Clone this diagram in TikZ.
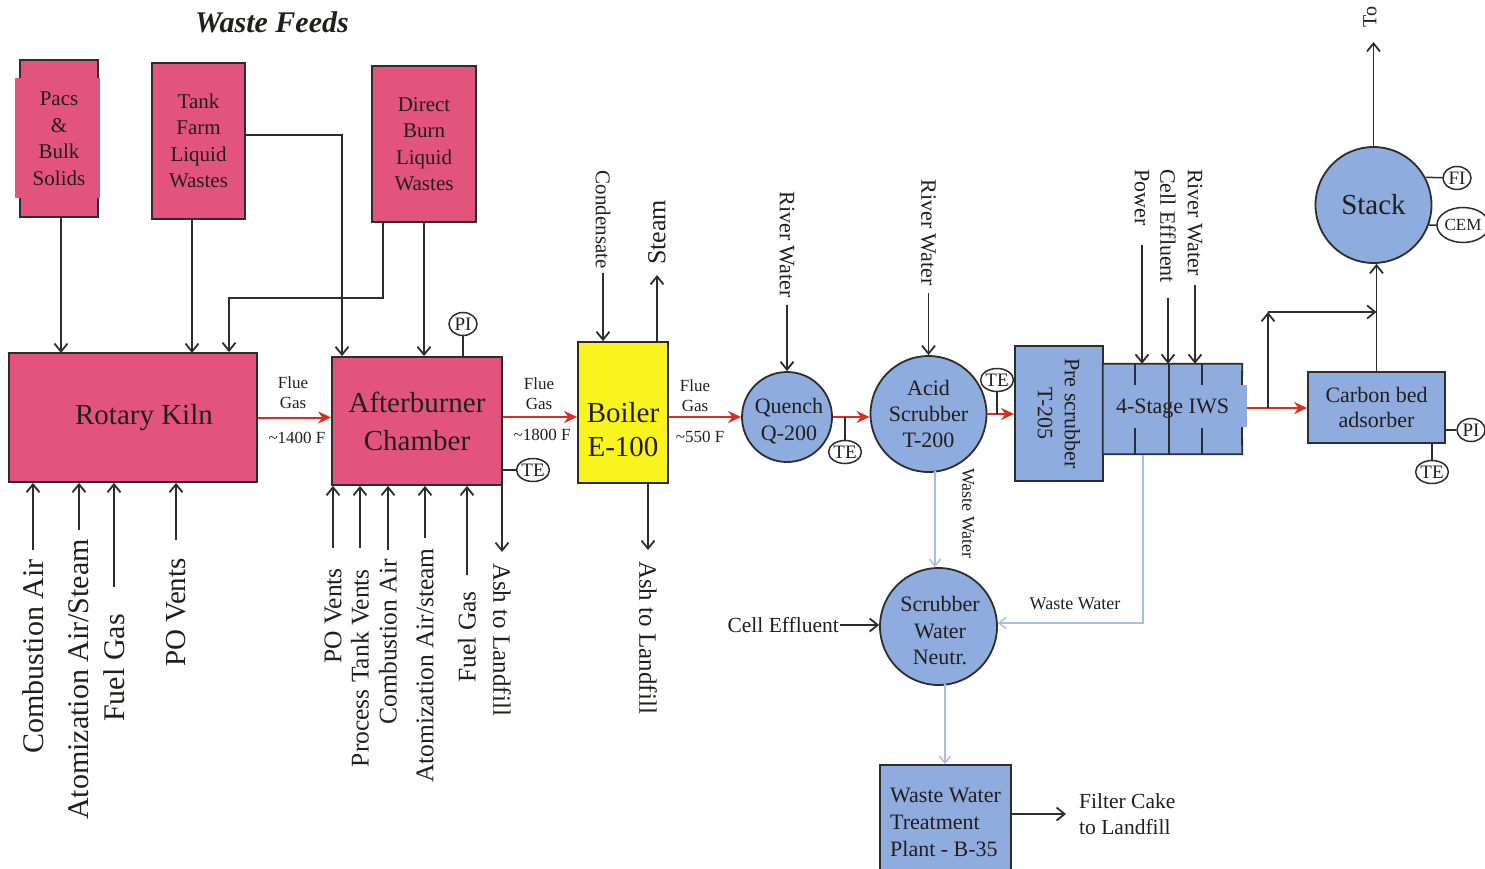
\documentclass[tikz,border=0pt]{standalone}
\usepackage{fontspec}
\setmainfont{Liberation Serif}
\usetikzlibrary{arrows.meta,shapes.geometric}
\definecolor{pinkf}{RGB}{226,84,124}
\definecolor{yelf}{RGB}{250,244,30}
\definecolor{bluef}{RGB}{142,172,222}
\definecolor{ln}{RGB}{45,45,45}
\definecolor{redl}{RGB}{220,45,35}
\definecolor{wwl}{RGB}{165,190,225}
\definecolor{txt}{RGB}{35,30,30}
\newcommand\fsz[2]{\fontsize{#1}{#2}\selectfont}
\begin{document}
\begin{tikzpicture}[x=1pt,y=-1pt,
  every node/.append style={text=txt},
  box/.style={rectangle, draw=ln, line width=1.8pt, inner sep=0pt},
  pinkbox/.style={box, fill=pinkf},
  bluebox/.style={box, fill=bluef},
  ves/.style={circle, draw=ln, line width=1.8pt, fill=bluef, inner sep=0pt, align=center},
  inst/.style={ellipse, draw=ln, line width=1.5pt, fill=white, minimum width=28pt, minimum height=23pt, inner sep=0pt, font=\fsz{19}{19}},
  arr/.style={draw=ln, line width=1.8pt, -{Straight Barb[length=8pt,width=13pt]}},
  pline/.style={draw=ln, line width=1.8pt},
  iline/.style={draw=ln, line width=1.5pt},
  flue/.style={draw=redl, line width=2pt, -{Stealth[length=13pt,width=12pt]}},
  wwa/.style={draw=wwl, line width=1.4pt, -{Straight Barb[length=7pt,width=11pt]}},
  lbl/.style={inner sep=1pt},
  vup/.style={lbl, rotate=90, anchor=east},
  vdn/.style={lbl, rotate=-90, anchor=west},
]
\fill[white] (0,0) rectangle (1485,869);
\useasboundingbox (0,0) rectangle (1485,869);

% ---------- title
\node[font=\fsz{30}{30}\bfseries\itshape] (title) at (272,22) {Waste Feeds};

% ---------- waste feeds
\fill[pinkf] (15,78) rectangle (100,198);
\node[rectangle, fill=pinkf, minimum width=78pt, minimum height=157pt, inner sep=0pt, align=center, font=\fsz{21}{26.5}] (pacs) at (59,138.5) {Pacs\\\&\\Bulk\\Solids};
\draw[pline] (pacs.north west) ++(0,18) -- (pacs.north west) -- (pacs.north east) -- ++(0,18);
\draw[pline] (pacs.south west) ++(0,-19) -- (pacs.south west) -- (pacs.south east) -- ++(0,-19);

\node[pinkbox, minimum width=93pt, minimum height=156pt, align=center, font=\fsz{21}{26.5}] (tank) at (198.5,141) {Tank\\Farm\\Liquid\\Wastes};
\node[pinkbox, minimum width=104pt, minimum height=156pt, align=center, font=\fsz{21}{26.5}] (direct) at (424,144) {Direct\\Burn\\Liquid\\Wastes};

% ---------- main units
\node[pinkbox, minimum width=248pt, minimum height=129pt, font=\fsz{29}{29}] (kiln) at (133,417.5) {\hspace*{22pt}Rotary Kiln};
\node[pinkbox, minimum width=170pt, minimum height=128pt, align=center, font=\fsz{29}{38}] (ab) at (417,421) {Afterburner\\Chamber};
\node[box, fill=yelf, minimum width=90pt, minimum height=141pt] (boiler) at (623,412.5) {};
\node[align=center, font=\fsz{29}{34}, inner sep=0pt] (boilert) at (623,430) {Boiler\\E-100};
\node[ves, minimum size=90pt] (quench) at (787,417) {};
\node[align=center, font=\fsz{22}{27}, inner sep=0pt] (quencht) at (789,421) {Quench\\Q-200};
\node[ves, minimum size=116pt, font=\fsz{22}{26}] (acid) at (928.5,414) {Acid\\Scrubber\\T-200};
\node[bluebox, minimum width=135pt, minimum height=88pt, rotate=-90, align=center, font=\fsz{22}{27}] (pre) at (1059,413.5) {Pre scrubber\\T-205};

% 4-stage IWS
\fill[bluef] (1242,385) rectangle (1247,427);
\node[rectangle, fill=bluef, minimum width=139pt, minimum height=90pt, inner sep=0pt, font=\fsz{22}{22}] (iws) at (1172.5,409) {4-Stage IWS};
\draw[pline] (1242,385) -- (iws.north east) -- (iws.north west) -- (iws.south west) -- (iws.south east) -- (1242,427);
\draw[pline] (1169,364) -- (1169,454);
\draw[pline] (1135,364) -- (1135,385) (1135,428) -- (1135,454);
\draw[pline] (1202,364) -- (1202,385) (1202,428) -- (1202,454);

\node[bluebox, minimum width=137pt, minimum height=71pt, align=center, font=\fsz{22}{25}] (carbon) at (1376.5,407.5) {Carbon bed\\adsorber};
\node[ves, minimum size=116pt, font=\fsz{29}{29}] (stack) at (1373.5,205) {Stack};
\node[ves, minimum size=117pt] (neutr) at (938.5,626.5) {};
\node[align=center, font=\fsz{22}{26.5}, inner sep=0pt] (neutrt) at (940,631) {Scrubber\\Water\\Neutr.};
\node[bluebox, minimum width=131pt, minimum height=115pt, align=left, font=\fsz{22}{27}] (wwtp) at (945.5,822.5) {Waste Water\\Treatment\\Plant - B-35};

% ---------- feed connections
\coordinate (kin1) at (61,353);
\coordinate (kin2) at (192,353);
\draw[arr] (pacs.south -| kin1) -- (kin1);
\draw[arr] (tank.south -| kin2) -- (kin2);
\coordinate (tankC) at (342,135);
\draw[arr] (tank.east |- tankC) -- (tankC) -- (tankC |- ab.north);
\coordinate (dirC1) at (383,298);
\coordinate (dirC2) at (229,298);
\draw[arr] (direct.south -| dirC1) -- (dirC1) -- (dirC2) -- (dirC2 |- kiln.north);
\coordinate (dirC3) at (424,300);
\draw[arr] (direct.south -| dirC3) -- (dirC3 |- ab.north);

% ---------- kiln inputs
\coordinate (k1) at (33,550);
\coordinate (k2) at (79,530);
\coordinate (k3) at (114,587);
\coordinate (k4) at (176,540);
\draw[arr] (k1) -- (k1 |- kiln.south);
\draw[arr] (k2) -- (k2 |- kiln.south);
\draw[arr] (k3) -- (k3 |- kiln.south);
\draw[arr] (k4) -- (k4 |- kiln.south);
\node[vup, font=\fsz{30}{30}] (k1t) at (33,558) {Combustion Air};
\node[vup, font=\fsz{30}{30}] (k2t) at (79,538) {Atomization Air/Steam};
\node[vup, font=\fsz{30}{30}] (k3t) at (114,613) {Fuel Gas};
\node[vup, font=\fsz{29}{29}] (k4t) at (176,557) {PO Vents};

% ---------- afterburner inputs
\coordinate (a1) at (333,548);
\coordinate (a2) at (360,548);
\coordinate (a3) at (388,550);
\coordinate (a4) at (425,538);
\coordinate (a5) at (467,575);
\coordinate (a6) at (502,552);
\draw[arr] (a1) -- (a1 |- ab.south);
\draw[arr] (a2) -- (a2 |- ab.south);
\draw[arr] (a3) -- (a3 |- ab.south);
\draw[arr] (a4) -- (a4 |- ab.south);
\draw[arr] (a5) -- (a5 |- ab.south);
\draw[arr] (a6 |- ab.south) -- (a6);
\node[vup, font=\fsz{25.5}{25.5}] (a1t) at (333,567) {PO Vents};
\node[vup, font=\fsz{25.5}{25.5}] (a2t) at (360,568) {Process Tank Vents};
\node[vup, font=\fsz{25.5}{25.5}] (a3t) at (388,558) {Combustion Air};
\node[vup, font=\fsz{25.5}{25.5}] (a4t) at (425,547) {Atomization Air/steam};
\node[vup, font=\fsz{25.5}{25.5}] (a5t) at (467,590) {Fuel Gas};
\node[vdn, font=\fsz{25}{25}] (a6t) at (502,562) {Ash to Landfill};

% ---------- boiler streams
\coordinate (b1) at (648,550);
\draw[arr] (b1 |- boiler.south) -- (b1);
\node[vdn, font=\fsz{25}{25}] (b1t) at (648,560) {Ash to Landfill};
\coordinate (cond) at (603,273);
\draw[arr] (cond) -- (cond |- boiler.north);
\node[lbl, rotate=-90, anchor=east, font=\fsz{21}{21}] (condt) at (603,270) {Condensate};
\coordinate (stm) at (657,275);
\draw[arr] (stm |- boiler.north) -- (stm);
\node[lbl, rotate=90, anchor=west, font=\fsz{26}{26}] (stmt) at (657,266) {Steam};

% ---------- river water
\coordinate (rw1) at (787,305);
\draw[arr] (rw1) -- (quench.north);
\node[lbl, rotate=-90, anchor=east, font=\fsz{22}{22}] (rw1t) at (787,299) {River Water};
\coordinate (rw2) at (928.5,293);
\draw[arr] (rw2) -- (acid.north);
\node[lbl, rotate=-90, anchor=east, font=\fsz{22}{22}] (rw2t) at (928.5,287) {River Water};

% ---------- IWS inputs
\coordinate (i1) at (1142,245);
\coordinate (i2) at (1168,298);
\coordinate (i3) at (1195,285);
\draw[arr] (i1) -- (i1 |- iws.north);
\draw[arr] (i2) -- (i2 |- iws.north);
\draw[arr] (i3) -- (i3 |- iws.north);
\node[vdn, font=\fsz{22}{22}] (i1t) at (1142,168) {Power};
\node[vdn, font=\fsz{22}{22}] (i2t) at (1168,168) {Cell Effluent};
\node[vdn, font=\fsz{22}{22}] (i3t) at (1195,168) {River Water};

% ---------- flue gas line
\draw[flue] (kiln.east) -- (kiln.east -| ab.west);
\draw[flue] ([yshift=4pt]ab.east) -- ([yshift=4pt]ab.east -| boiler.west);
\draw[flue] (boiler.east |- quench.west) -- (quench.west);
\draw[flue] (quench.east) -- (quench.east -| acid.west);
\draw[flue] (acid.east) -- (acid.east -| pre.south);
\coordinate (iwsOut) at (1247,408);
\draw[flue] (iwsOut) -- (iwsOut -| carbon.west);

\node[lbl, align=center, font=\fsz{17}{20}] (fg1) at (293,393) {Flue\\Gas};
\node[lbl, font=\fsz{17}{17}] (tp1) at (297,438) {\textasciitilde1400 F};
\node[lbl, align=center, font=\fsz{17}{20}] (fg2) at (539,394) {Flue\\Gas};
\node[lbl, font=\fsz{17}{17}] (tp2) at (542,435) {\textasciitilde1800 F};
\node[lbl, align=center, font=\fsz{17}{20}] (fg3) at (695,396) {Flue\\Gas};
\node[lbl, font=\fsz{17}{17}] (tp3) at (700,437) {\textasciitilde550 F};

% ---------- bypass and stack
\coordinate (byA) at (1268,408);
\coordinate (byB) at (1268,312);
\draw[arr] (byA) -- (byB);
\draw[arr] (byB) -- (byB -| carbon.north);
\draw[arr] (carbon.north) -- (carbon.north |- stack.south);
\coordinate (toatm) at (1373.5,42);
\draw[arr] (stack.north) -- (toatm);
\node[lbl, rotate=90, anchor=west, font=\fsz{20}{20}] (tot) at (1370,29) {To};

% ---------- instruments
\node[inst] (abPI) at (463,324) {PI};
\draw[iline] (abPI) -- (abPI |- ab.north);
\node[inst] (abTE) at (533,470) {TE};
\draw[iline] (abTE) -- (abTE -| ab.east);
\node[inst] (qTE) at (845,452) {TE};
\draw[iline] (qTE) -- (qTE |- quench.east);
\node[inst] (aTE) at (997,380) {TE};
\draw[iline] (aTE) -- (aTE |- acid.east);
\node[inst] (cPI) at (1471,430) {PI};
\draw[iline] (cPI) -- (cPI -| carbon.east);
\node[inst] (cTE) at (1432,472) {TE};
\draw[iline] (cTE) -- (cTE |- carbon.south);
\node[inst] (sFI) at (1457,178) {FI};
\draw[iline] (sFI) -- (stack.28);
\node[ellipse, draw=ln, line width=1.5pt, fill=white, minimum width=46pt, minimum height=35pt, inner sep=0pt, font=\fsz{17}{17}] (cem) at (1463,225) {CEM};
\draw[iline] (cem) -- (stack.-20);

% ---------- waste water
\coordinate (aOut) at (935,471);
\draw[wwa] (aOut) -- (aOut |- neutr.north);
\node[vdn, font=\fsz{18}{18}] (ww1t) at (968,467) {Waste Water};
\coordinate (iOut) at (1143,455);
\coordinate (iC) at (1143,623);
\draw[wwa] (iOut) -- (iC) -- (iC -| neutr.east);
\node[lbl, font=\fsz{18}{18}] (ww2t) at (1075,604) {Waste Water};
\coordinate (nOut) at (945,684);
\draw[wwa] (nOut) -- (nOut |- wwtp.north);

\node[lbl, anchor=east, font=\fsz{21.5}{21.5}] (cellE) at (840,625) {Cell Effluent};
\draw[arr] (cellE.east) -- (cellE.east -| neutr.west);

\node[lbl, anchor=west, align=left, font=\fsz{21.5}{26}] (filt) at (1078,814) {Filter Cake\\to Landfill};
\coordinate (fArr) at (1066,814);
\draw[arr] (fArr -| wwtp.east) -- (fArr);
\end{tikzpicture}
\end{document}
